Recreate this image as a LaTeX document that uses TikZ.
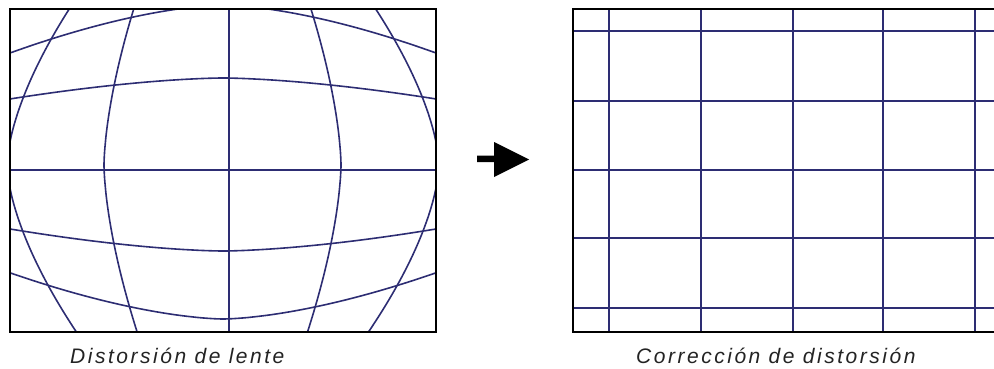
\documentclass[tikz,border=0pt]{standalone}
\usepackage{fontspec}
\newfontfamily\labfont[LetterSpace=12]{Liberation Sans}
\definecolor{gridblue}{RGB}{45,45,115}
\definecolor{captiongray}{RGB}{35,35,35}
\begin{document}
\begin{tikzpicture}[x=1pt,y=-1pt,
  gridline/.style={draw=gridblue,line width=1.6pt},
  frame/.style={draw=black,line width=2pt},
  caption/.style={anchor=base west,inner sep=0pt,font=\labfont\itshape\fontsize{21}{25}\selectfont,text=captiongray}]
\useasboundingbox (0,0) rectangle (994,369);
% ---------- left: distorted grid ----------
\begin{scope}
  \clip (10,9) rectangle (436,332);
  \foreach \M/\c in {-216/0.30,-119/0.26,118/0.265,216/0.305}{
    \draw[gridline] plot[smooth,domain=-180:180,samples=73]
      ({223+(\M)*(1-\c*((abs(\x)+0.01)/160)^1.6)},{165+\x});
  }
  \foreach \N/\c in {-160/0.30,-87/0.241,86/0.256,154/0.30}{
    \draw[gridline] plot[smooth,domain=-230:230,samples=93]
      ({223+\x},{165+(\N)*(1-\c*((abs(\x)+0.01)/213)^1.6)});
  }
  \draw[gridline] (229,9) -- (229,332);
  \draw[gridline] (10,170) -- (436,170);
\end{scope}
\draw[frame] (10,9) rectangle (436,332);
% ---------- arrow ----------
\fill[black] (477,155.5) -- (494,155.5) -- (494,142) -- (529,159.5) -- (494,177) -- (494,162) -- (477,162) -- cycle;
% ---------- right: corrected grid ----------
\foreach \gx in {609,701,793,883,975}{
  \draw[gridline] (\gx,9) -- (\gx,332);
}
\foreach \gy in {31,101,170,238,308}{
  \draw[gridline] (573,\gy) -- (994,\gy);
}
\draw[frame] (994,9) -- (573,9) -- (573,332) -- (994,332);
% ---------- captions ----------
\node[caption] (capL) at (70,363) {Distorsión de lente};
\node[caption] (capR) at (636,363) {Corrección de distorsión};
\end{tikzpicture}
\end{document}
